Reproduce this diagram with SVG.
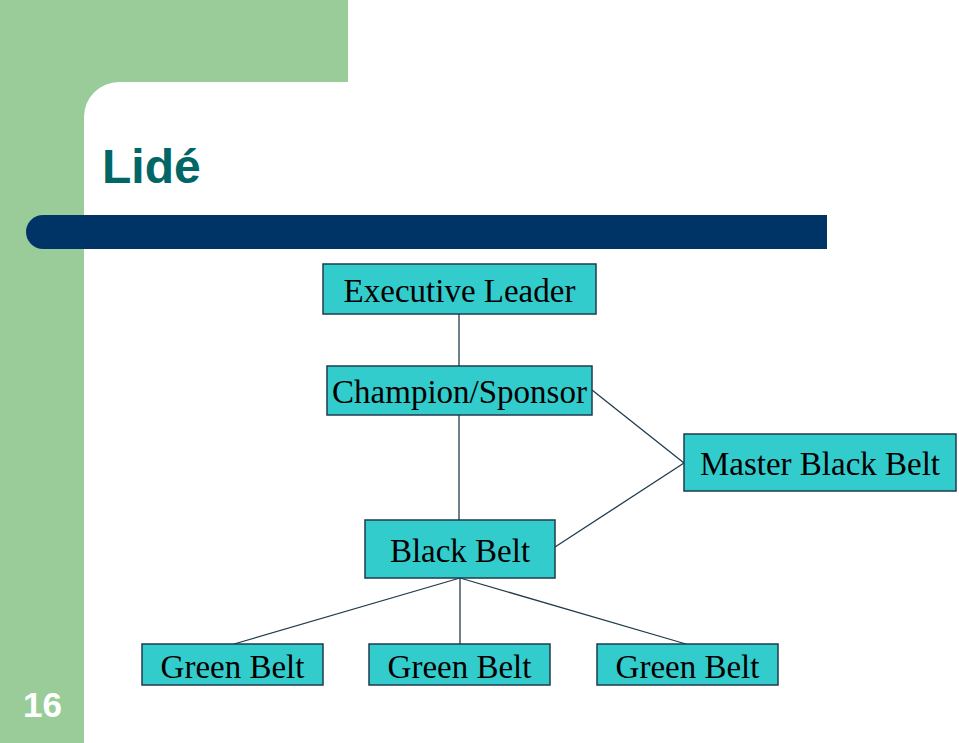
<svg xmlns="http://www.w3.org/2000/svg" width="959" height="743" viewBox="0 0 959 743">
<style>
.bg{fill:#99CC99}
.node rect{fill:#33CCCC;stroke:#1F3B4D;stroke-width:1.5}
.node text{font-family:"Liberation Serif","Times New Roman",serif;font-size:33px;fill:#000;text-anchor:middle}
.conn line{stroke:#1F3B4D;stroke-width:1.3}
</style>
<rect width="959" height="743" fill="#fff"/>
<g id="decor">
<rect class="bg" x="0" y="0" width="348" height="82"/>
<rect class="bg" x="0" y="0" width="84" height="743"/>
<path class="bg" d="M84 82 H119 A35 35 0 0 0 84 117 Z"/>
<path d="M43 215 H827 V249 H43 A17 17 0 0 1 43 215 Z" fill="#003366"/>
<text x="102" y="183" font-family="'Liberation Sans',Arial,sans-serif" font-weight="bold" font-size="48" fill="#006666">Lidé</text>
<text x="42.5" y="717" font-family="'Liberation Sans',Arial,sans-serif" font-weight="bold" font-size="35" fill="#ffffff" text-anchor="middle">16</text>
</g>
<g id="connectors" class="conn">
<line x1="459" y1="314" x2="459" y2="366"/>
<line x1="459" y1="415" x2="459" y2="520"/>
<line x1="592" y1="390" x2="684" y2="463"/>
<line x1="555" y1="547" x2="684" y2="463"/>
<line x1="460" y1="578" x2="234" y2="644"/>
<line x1="460" y1="578" x2="460" y2="644"/>
<line x1="460" y1="578" x2="686" y2="644"/>
</g>
<g id="executive-leader" class="node"><rect x="323" y="264" width="273" height="50"/><text x="459.5" y="302">Executive Leader</text></g>
<g id="champion-sponsor" class="node"><rect x="327" y="366" width="265" height="49"/><text x="459.5" y="403">Champion/Sponsor</text></g>
<g id="master-black-belt" class="node"><rect x="684" y="434" width="272" height="57"/><text x="820" y="475">Master Black Belt</text></g>
<g id="black-belt" class="node"><rect x="365" y="520" width="190" height="58"/><text x="460" y="562">Black Belt</text></g>
<g id="green-belt-1" class="node"><rect x="142" y="644" width="181" height="41"/><text x="232.5" y="678">Green Belt</text></g>
<g id="green-belt-2" class="node"><rect x="369" y="644" width="181" height="41"/><text x="459.5" y="678">Green Belt</text></g>
<g id="green-belt-3" class="node"><rect x="597" y="644" width="181" height="41"/><text x="687.5" y="678">Green Belt</text></g>
</svg>
